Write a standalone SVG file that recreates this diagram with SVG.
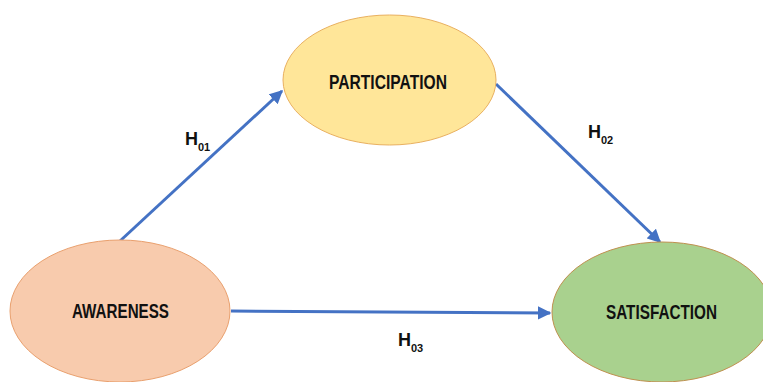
<svg xmlns="http://www.w3.org/2000/svg" width="763" height="382" viewBox="0 0 763 382">
<style>
.lbl{font-family:"Liberation Sans",Arial,sans-serif;font-weight:bold;fill:#111;}
.node{font-size:19.5px;text-anchor:middle;}
.h{font-size:18px;}
.sub{font-size:11px;}
.conn{stroke:#4472C4;stroke-width:3;fill:none;marker-end:url(#arr);}
</style>
<defs>
<marker id="arr" viewBox="0 0 10 10" refX="9" refY="5" markerWidth="4.5" markerHeight="4.5" orient="auto" markerUnits="strokeWidth">
<path d="M0,0 L10,5 L0,10 Z" fill="#4472C4"/>
</marker>
</defs>
<rect width="763" height="382" fill="#fff"/>
<g id="connectors">
<line class="conn" x1="120" y1="241" x2="282" y2="91"/>
<line class="conn" x1="496" y1="84" x2="660" y2="242"/>
<line class="conn" x1="231" y1="311" x2="550" y2="313"/>
</g>
<g id="awareness">
<ellipse cx="120" cy="311" rx="110" ry="71" fill="#F8CBAD" stroke="#E9A06E" stroke-width="1"/>
<text class="lbl node" x="120.5" y="318" textLength="97" lengthAdjust="spacingAndGlyphs">AWARENESS</text>
</g>
<g id="participation">
<ellipse cx="389.5" cy="80" rx="106.5" ry="65" fill="#FFE699" stroke="#E9B060" stroke-width="1"/>
<text class="lbl node" x="388" y="89" textLength="118" lengthAdjust="spacingAndGlyphs">PARTICIPATION</text>
</g>
<g id="satisfaction">
<ellipse cx="662" cy="312" rx="110" ry="70" fill="#A9D18E" stroke="#C09050" stroke-width="1"/>
<text class="lbl node" x="661.5" y="319" textLength="111" lengthAdjust="spacingAndGlyphs">SATISFACTION</text>
</g>
<g id="labels">
<text class="lbl h" x="185" y="145">H<tspan class="sub" dy="6">01</tspan></text>
<text class="lbl h" x="588" y="138">H<tspan class="sub" dy="6">02</tspan></text>
<text class="lbl h" x="398" y="346">H<tspan class="sub" dy="6">03</tspan></text>
</g>
</svg>
